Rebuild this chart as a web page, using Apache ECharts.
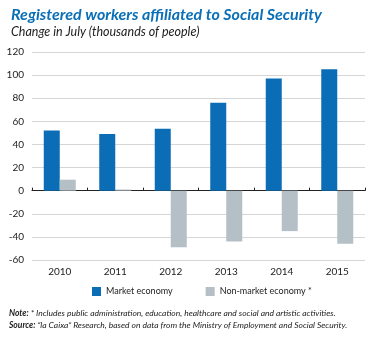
<!DOCTYPE html>
<html><head><meta charset="utf-8">
<script src="https://cdn.jsdelivr.net/npm/echarts@6/dist/echarts.min.js"></script>
<style>html,body{margin:0;padding:0;background:#fff}#c{width:387px;height:338px}</style>
</head><body><div id="c"></div>
<script>
const categories = ['2010','2011','2012','2013','2014','2015'];
const marketEconomy = [52, 49, 53.5, 76, 97, 105];
const nonMarketEconomy = [9.5, 1, -49, -44, -35, -46];
const yTicks = {min: -60, max: 120, interval: 20};
const titleText = 'Registered workers affiliated to Social Security';
const subtitleText = 'Change in July (thousands of people)';
const noteText = '* Includes public administration, education, healthcare and social and artistic activities.';
const sourceText = '\u201cla Caixa\u201d Research, based on data from the Ministry of Employment and Social Security.';

const chart = echarts.init(document.getElementById('c'), null, {renderer: 'canvas'});
const font = 'Lato';
chart.setOption({
  animation: false,
  textStyle: {fontFamily: font},
  title: {
    text: titleText, subtext: subtitleText, left: 6, top: 2, itemGap: 2,
    textStyle: {color: '#0a6fb7', fontSize: 16, fontWeight: 'bold', fontStyle: 'italic', fontFamily: font},
    subtextStyle: {color: '#222', fontSize: 12.5, fontStyle: 'italic', fontFamily: font}
  },
  grid: {left: 32, right: 22, top: 52, bottom: 78, containLabel: false},
  legend: {
    top: 287, left: 92, padding: 0, itemWidth: 9, itemHeight: 9, itemGap: 33,
    icon: 'rect',
    textStyle: {fontSize: 9, color: '#222', fontFamily: font},
    data: ['Market economy', 'Non-market economy *']
  },
  xAxis: [{
    type: 'category', data: categories, position: 'bottom',
    axisLine: {show: false, onZero: false}, axisTick: {show: false},
    axisLabel: {fontSize: 10, color: '#222', margin: 7}
  }, {
    type: 'category', data: categories, position: 'bottom',
    axisLine: {show: true, onZero: true, lineStyle: {color: '#222', width: 1.2}},
    axisTick: {show: true, inside: true, length: 3, lineStyle: {color: '#222'}},
    axisLabel: {show: false}
  }],
  yAxis: {
    type: 'value', min: yTicks.min, max: yTicks.max, interval: yTicks.interval,
    axisLine: {show: false}, axisTick: {show: false},
    axisLabel: {fontSize: 10, color: '#222', margin: 8},
    splitLine: {lineStyle: {color: '#d6d6d6', width: 1.2}}
  },
  series: [{
    name: 'Market economy', type: 'bar', data: marketEconomy, barWidth: 16, barGap: '0%',
    itemStyle: {color: '#0a6db5'}
  }, {
    name: 'Non-market economy *', type: 'bar', data: nonMarketEconomy, barWidth: 16, barGap: '0%',
    itemStyle: {color: '#b4c0c5'}
  }],
  graphic: [{
    type: 'text', left: 9, top: 307,
    style: {
      text: '{b|Note:} ' + noteText + '\n{b|Source:} ' + sourceText,
      font: 'italic 8.5px ' + font, fill: '#222', lineHeight: 12,
      rich: {b: {fontWeight: 'bold', fontStyle: 'italic', fontSize: 8.5, fontFamily: font, fill: '#222'}}
    }
  }]
});
</script></body></html>
